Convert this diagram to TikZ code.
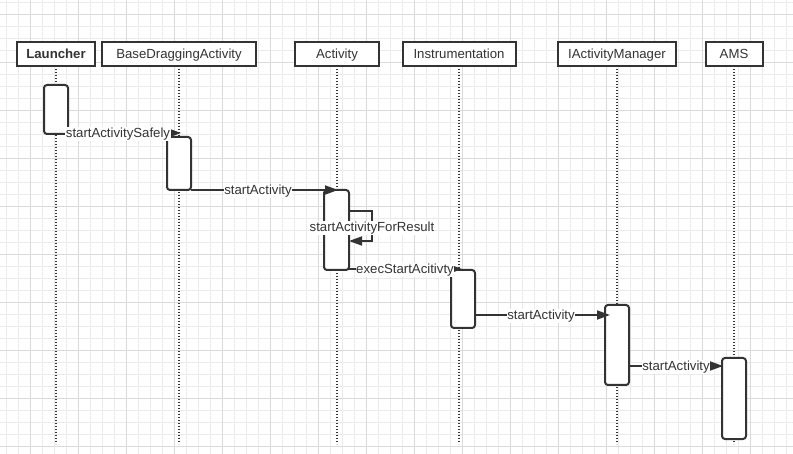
\documentclass[tikz,border=0pt]{standalone}
\usepackage{fontspec}
\setmainfont{Liberation Sans}
\usetikzlibrary{arrows.meta}
\definecolor{ink}{HTML}{333333}
\definecolor{gridminor}{HTML}{EBEBEB}
\definecolor{gridmajor}{HTML}{DADADA}
\tikzset{
  x=1pt, y=-1pt,
  headbox/.style={draw=ink, line width=2pt, fill=white, minimum height=24pt, inner sep=0pt, text height=9.5pt, text depth=0pt, font=\fontsize{13.2}{15}\selectfont, text=ink},
  actbox/.style={draw=ink, line width=2pt, fill=white, rounded corners=3pt},
  life/.style={ink, line width=2pt, dash pattern=on 1.4pt off 1.6pt},
  msg/.style={ink, line width=1.8pt, -{Triangle[length=13pt,width=9pt]}},
  lbl/.style={fill=white, inner sep=0.5pt, font=\fontsize{13.2}{15}\selectfont, text=ink}
}
\begin{document}
\begin{tikzpicture}
\useasboundingbox (0,0) rectangle (793,454);
\fill[white] (0,0) rectangle (793,454);
% grid
\foreach \i in {0,...,66} { \draw[gridminor, line width=0.8pt] (6+12*\i,0) -- (6+12*\i,454); }
\foreach \j in {0,...,37} { \draw[gridminor, line width=0.8pt] (0,2+12*\j) -- (793,2+12*\j); }
\foreach \i in {0,...,16} { \draw[gridmajor, line width=0.9pt] (30+48*\i,0) -- (30+48*\i,454); }
\foreach \j in {0,...,9} { \draw[gridmajor, line width=0.9pt] (0,14+48*\j) -- (793,14+48*\j); }

% lifelines
\foreach \x/\n in {56/l1,179/l2,337/l3,459/l4,617/l5,734/l6} {
  \coordinate (\n top) at (\x,66);
  \coordinate (\n bot) at (\x,444);
  \draw[life] (\n top) -- (\n bot);
}

% headers
\node[headbox, minimum width=78pt, font=\bfseries\fontsize{13.2}{15}\selectfont] (launcher) at (56,54) {Launcher};
\node[headbox, minimum width=154pt] (base) at (179,54) {BaseDraggingActivity};
\node[headbox, minimum width=84pt] (activity) at (337,54) {Activity};
\node[headbox, minimum width=113pt] (instr) at (459,54) {Instrumentation};
\node[headbox, minimum width=118pt] (iam) at (617,54) {IActivityManager};
\node[headbox, minimum width=57pt] (ams) at (734,54) {AMS};

% activation boxes
\draw[actbox] (44,85) rectangle (68,134);
\draw[actbox] (167,137) rectangle (191,190);
\draw[actbox] (324,190) rectangle (349,270);
\draw[actbox] (451,270) rectangle (475,328);
\draw[actbox] (605,305) rectangle (629,385);
\draw[actbox] (722,358) rectangle (746,439);

% messages
\coordinate (m1s) at (68,133); \coordinate (m1e) at (181,133);
\draw[msg] (m1s) -- (m1e);
\node[lbl] (m1l) at (118,134) {startActivitySafely};

\coordinate (m2s) at (191,190); \coordinate (m2e) at (338,190);
\draw[msg] (m2s) -- (m2e);
\node[lbl] (m2l) at (258,191) {startActivity};

\coordinate (m3s) at (349,211); \coordinate (m3e) at (349,241);
\draw[msg] (m3s) -- (372,211) -- (372,241) -- (m3e);
\node[lbl] (m3l) at (372,228) {startActivityForResult};

\coordinate (m4s) at (349,269); \coordinate (m4e) at (462,269);
\draw[msg] (m4s) -- (m4e);
\node[lbl] (m4l) at (405,270) {execStartAcitivty};

\coordinate (m5s) at (475,315); \coordinate (m5e) at (610,315);
\draw[msg] (m5s) -- (m5e);
\node[lbl] (m5l) at (541,316) {startActivity};

\coordinate (m6s) at (629,366); \coordinate (m6e) at (723,366);
\draw[msg] (m6s) -- (m6e);
\node[lbl] (m6l) at (676,367) {startActivity};
\end{tikzpicture}
\end{document}
